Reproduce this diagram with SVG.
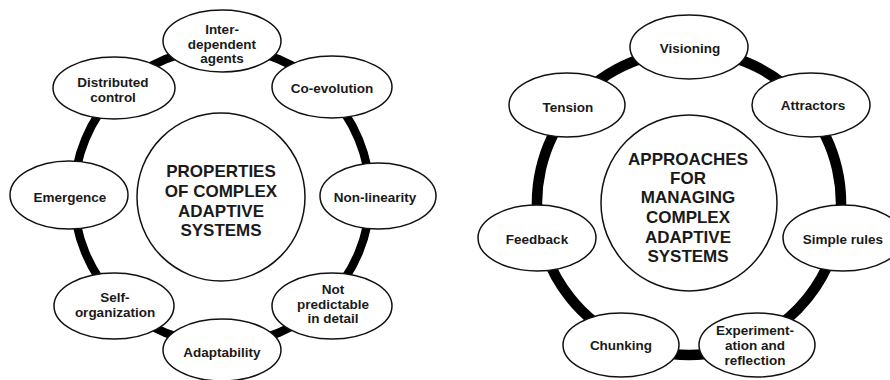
<svg xmlns="http://www.w3.org/2000/svg" width="890" height="380" viewBox="0 0 890 380">
<style>
.ring{fill:none;stroke:#000;}
.l{stroke-width:8.5;}
.r{stroke-width:10.5;}
.node ellipse{fill:#fff;stroke:#111;stroke-width:1.5;}
.hub circle{fill:#fff;stroke:#111;stroke-width:1.5;}
text{font-family:"Liberation Sans",Arial,sans-serif;font-weight:bold;fill:#1a1a1a;text-anchor:middle;}
.t{font-size:13.5px;}
.h{font-size:17px;}
</style>
<rect width="890" height="380" fill="#fff"/>
<g id="connectors">
<path class="ring l" d="M222 48A148 148 0 0 1 326.65 91.35"/>
<path class="ring l" d="M326.65 91.35A148 148 0 0 1 370 196"/>
<path class="ring l" d="M370 196A148 148 0 0 1 326.65 300.65"/>
<path class="ring l" d="M326.65 300.65A148 148 0 0 1 222 344"/>
<path class="ring l" d="M222 344A148 148 0 0 1 117.35 300.65"/>
<path class="ring l" d="M117.35 300.65A148 148 0 0 1 74 196"/>
<path class="ring l" d="M74 196A148 148 0 0 1 117.35 91.35"/>
<path class="ring l" d="M117.35 91.35A148 148 0 0 1 222 48"/>
<path class="ring r" d="M689 51A152 152 0 0 1 807.83 108.23"/>
<path class="ring r" d="M807.83 108.23A152 152 0 0 1 837.18 236.82"/>
<path class="ring r" d="M837.18 236.82A152 152 0 0 1 754.95 339.95"/>
<path class="ring r" d="M754.95 339.95A152 152 0 0 1 623.05 339.95"/>
<path class="ring r" d="M623.05 339.95A152 152 0 0 1 540.82 236.82"/>
<path class="ring r" d="M540.82 236.82A152 152 0 0 1 570.17 108.23"/>
<path class="ring r" d="M570.17 108.23A152 152 0 0 1 689 51"/>
</g>
<g id="hub-left" class="hub">
<circle cx="221" cy="197" r="84"/>
<text class="h" x="221" y="177">PROPERTIES</text>
<text class="h" x="221" y="197">OF COMPLEX</text>
<text class="h" x="221" y="217">ADAPTIVE</text>
<text class="h" x="221" y="236">SYSTEMS</text>
</g>
<g id="interdependent" class="node">
<ellipse cx="222" cy="41" rx="59" ry="31"/>
<text class="t" x="222" y="34">Inter-</text>
<text class="t" x="222" y="49">dependent</text>
<text class="t" x="222" y="63">agents</text>
</g>
<g id="coevolution" class="node">
<ellipse cx="332" cy="87" rx="60" ry="31"/>
<text class="t" x="332" y="93">Co-evolution</text>
</g>
<g id="nonlinearity" class="node">
<ellipse cx="378" cy="196" rx="58" ry="33"/>
<text class="t" x="375" y="202">Non-linearity</text>
</g>
<g id="notpredictable" class="node">
<ellipse cx="332" cy="306" rx="60" ry="33"/>
<text class="t" x="333" y="294">Not</text>
<text class="t" x="333" y="309">predictable</text>
<text class="t" x="333" y="323">in detail</text>
</g>
<g id="adaptability" class="node">
<ellipse cx="222" cy="350" rx="59" ry="31"/>
<text class="t" x="222" y="357">Adaptability</text>
</g>
<g id="selforganization" class="node">
<ellipse cx="114" cy="306" rx="60" ry="33"/>
<text class="t" x="115" y="302">Self-</text>
<text class="t" x="115" y="317">organization</text>
</g>
<g id="emergence" class="node">
<ellipse cx="69" cy="195" rx="59" ry="34"/>
<text class="t" x="70" y="202">Emergence</text>
</g>
<g id="distributed" class="node">
<ellipse cx="114" cy="88" rx="61" ry="31"/>
<text class="t" x="113" y="87">Distributed</text>
<text class="t" x="113" y="102">control</text>
</g>
<g id="hub-right" class="hub">
<circle cx="689" cy="203" r="88"/>
<text class="h" x="688" y="165">APPROACHES</text>
<text class="h" x="688" y="184">FOR</text>
<text class="h" x="688" y="203">MANAGING</text>
<text class="h" x="688" y="223">COMPLEX</text>
<text class="h" x="688" y="243">ADAPTIVE</text>
<text class="h" x="688" y="262">SYSTEMS</text>
</g>
<g id="visioning" class="node">
<ellipse cx="689" cy="47" rx="59" ry="32"/>
<text class="t" x="690" y="53">Visioning</text>
</g>
<g id="attractors" class="node">
<ellipse cx="811" cy="105" rx="59" ry="32"/>
<text class="t" x="813" y="110">Attractors</text>
</g>
<g id="simplerules" class="node">
<ellipse cx="843" cy="238" rx="60" ry="33"/>
<text class="t" x="843" y="244">Simple rules</text>
</g>
<g id="experimentation" class="node">
<ellipse cx="757" cy="345" rx="58" ry="32"/>
<text class="t" x="755" y="335">Experiment-</text>
<text class="t" x="755" y="350">ation and</text>
<text class="t" x="755" y="365">reflection</text>
</g>
<g id="chunking" class="node">
<ellipse cx="621" cy="345" rx="58" ry="32"/>
<text class="t" x="621" y="350">Chunking</text>
</g>
<g id="feedback" class="node">
<ellipse cx="537" cy="238" rx="59" ry="33"/>
<text class="t" x="537" y="244">Feedback</text>
</g>
<g id="tension" class="node">
<ellipse cx="567" cy="105" rx="58" ry="32"/>
<text class="t" x="568" y="112">Tension</text>
</g>
</svg>
